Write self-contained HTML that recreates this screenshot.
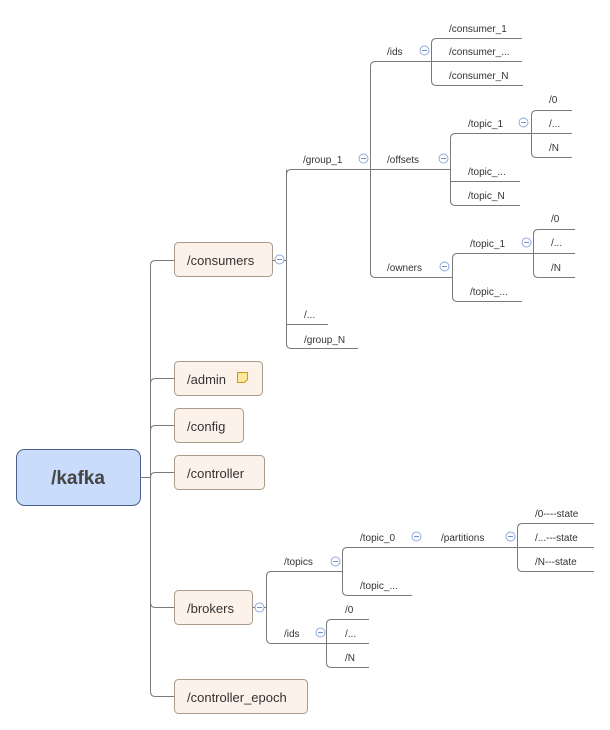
<!DOCTYPE html>
<html><head><meta charset="utf-8"><style>
body{margin:0;background:#fff;}
svg{display:block;font-family:"Liberation Sans",sans-serif;}
.l{stroke:#7a7a7a;stroke-width:1;fill:none;}
.t{font-size:10px;fill:#333;}
.b{fill:#fdf2e9;stroke:#a89a8c;stroke-width:1;}
.bt{font-size:13px;fill:#333;}
.ic{fill:#fff;stroke:#8fa8e0;stroke-width:1;}
.icl{stroke:#6f8fd8;stroke-width:1;}
</style></head><body>
<svg width="610" height="730" viewBox="0 0 610 730">
<!-- root -->
<rect x="16.5" y="449.5" width="124" height="56" rx="8" fill="#c9dcfb" stroke="#4a5f8a"/>
<text x="78" y="484" text-anchor="middle" font-size="19" font-weight="bold" fill="#444">/kafka</text>
<path class="l" d="M140.5 477.5H150.5"/>
<path class="l" d="M174 260.5H155.5Q150.5 260.5 150.5 265.5V691.5Q150.5 696.5 155.5 696.5H174"/>
<path class="l" d="M150.5 383.5Q150.5 378.5 155.5 378.5H174M150.5 430.5Q150.5 425.5 155.5 425.5H174M150.5 477.5Q150.5 472.5 155.5 472.5H174M150.5 602.5Q150.5 607.5 155.5 607.5H174"/>
<!-- level1 boxes -->
<rect class="b" x="174.5" y="242.5" width="98" height="34" rx="4"/><text class="bt" x="187" y="265">/consumers</text>
<rect class="b" x="174.5" y="361.5" width="88" height="34" rx="4"/><text class="bt" x="187" y="384">/admin</text>
<path d="M237.5 372.5h10v7l-3 3h-7z" fill="#fde79a" stroke="#c89a20"/>
<rect class="b" x="174.5" y="408.5" width="69" height="34" rx="4"/><text class="bt" x="187" y="431">/config</text>
<rect class="b" x="174.5" y="455.5" width="90" height="34" rx="4"/><text class="bt" x="187" y="478">/controller</text>
<rect class="b" x="174.5" y="590.5" width="78" height="34" rx="4"/><text class="bt" x="187" y="613">/brokers</text>
<rect class="b" x="174.5" y="679.5" width="133" height="34" rx="4"/><text class="bt" x="187" y="702">/controller_epoch</text>

<!-- consumers subtree -->
<path class="l" d="M272.5 260.5H286.5M286.5 169.5V343.5Q286.5 348.5 291.5 348.5H358M286.5 324.5H328M286.5 174.5Q286.5 169.5 291.5 169.5H450"/>
<text class="t" x="303" y="163">/group_1</text>
<text class="t" x="304" y="318">/...</text>
<text class="t" x="304" y="343">/group_N</text>
<path class="l" d="M370.5 66.5Q370.5 61.5 375.5 61.5H431M370.5 66.5V272.5Q370.5 277.5 375.5 277.5H452"/>
<text class="t" x="387" y="55">/ids</text>
<text class="t" x="387" y="163">/offsets</text>
<text class="t" x="387" y="271">/owners</text>
<!-- ids children -->
<path class="l" d="M522 38.5H436.5Q431.5 38.5 431.5 43.5V80.5Q431.5 85.5 436.5 85.5H523M431.5 61.5H522"/>
<text class="t" x="449" y="32">/consumer_1</text>
<text class="t" x="449" y="55">/consumer_...</text>
<text class="t" x="449" y="79">/consumer_N</text>
<!-- offsets children -->
<path class="l" d="M531 133.5H455.5Q450.5 133.5 450.5 138.5V200.5Q450.5 205.5 455.5 205.5H520M450.5 181.5H520"/>
<text class="t" x="468" y="127">/topic_1</text>
<text class="t" x="468" y="175">/topic_...</text>
<text class="t" x="468" y="199">/topic_N</text>
<path class="l" d="M572 110.5H536.5Q531.5 110.5 531.5 115.5V152.5Q531.5 157.5 536.5 157.5H572M531.5 133.5H572"/>
<text class="t" x="549" y="103">/0</text>
<text class="t" x="549" y="127">/...</text>
<text class="t" x="549" y="151">/N</text>
<!-- owners children -->
<path class="l" d="M533 253.5H457.5Q452.5 253.5 452.5 258.5V296.5Q452.5 301.5 457.5 301.5H522"/>
<text class="t" x="470" y="247">/topic_1</text>
<text class="t" x="470" y="295">/topic_...</text>
<path class="l" d="M575 229.5H538.5Q533.5 229.5 533.5 234.5V272.5Q533.5 277.5 538.5 277.5H575M533.5 253.5H575"/>
<text class="t" x="551" y="222">/0</text>
<text class="t" x="551" y="246">/...</text>
<text class="t" x="551" y="271">/N</text>

<!-- brokers subtree -->
<path class="l" d="M252.5 607.5H266.5M342 571.5H271.5Q266.5 571.5 266.5 576.5V638.5Q266.5 643.5 271.5 643.5H326"/>
<text class="t" x="284" y="565">/topics</text>
<text class="t" x="284" y="637">/ids</text>
<path class="l" d="M517 547.5H347.5Q342.5 547.5 342.5 552.5V590.5Q342.5 595.5 347.5 595.5H412"/>
<text class="t" x="360" y="541">/topic_0</text>
<text class="t" x="441" y="541">/partitions</text>
<text class="t" x="360" y="589">/topic_...</text>
<path class="l" d="M594 523.5H522.5Q517.5 523.5 517.5 528.5V566.5Q517.5 571.5 522.5 571.5H594M517.5 547.5H594"/>
<text class="t" x="535" y="517">/0----state</text>
<text class="t" x="535" y="541">/...---state</text>
<text class="t" x="535" y="565">/N---state</text>
<path class="l" d="M369 619.5H331.5Q326.5 619.5 326.5 624.5V662.5Q326.5 667.5 331.5 667.5H369M326.5 643.5H369"/>
<text class="t" x="345" y="613">/0</text>
<text class="t" x="345" y="637">/...</text>
<text class="t" x="345" y="661">/N</text>

<!-- collapse icons -->
<g>
<circle class="ic" cx="279.5" cy="259.5" r="4.5"/><path class="icl" d="M277 259.5h5"/>
<circle class="ic" cx="363.5" cy="158.5" r="4.5"/><path class="icl" d="M361 158.5h5"/>
<circle class="ic" cx="424.5" cy="50.5" r="4.5"/><path class="icl" d="M422 50.5h5"/>
<circle class="ic" cx="443.5" cy="158.5" r="4.5"/><path class="icl" d="M441 158.5h5"/>
<circle class="ic" cx="444.5" cy="266.5" r="4.5"/><path class="icl" d="M442 266.5h5"/>
<circle class="ic" cx="523.5" cy="122.5" r="4.5"/><path class="icl" d="M521 122.5h5"/>
<circle class="ic" cx="526.5" cy="242.5" r="4.5"/><path class="icl" d="M524 242.5h5"/>
<circle class="ic" cx="259.5" cy="607.5" r="4.5"/><path class="icl" d="M257 607.5h5"/>
<circle class="ic" cx="335.5" cy="561.5" r="4.5"/><path class="icl" d="M333 561.5h5"/>
<circle class="ic" cx="320.5" cy="632.5" r="4.5"/><path class="icl" d="M318 632.5h5"/>
<circle class="ic" cx="416.5" cy="536.5" r="4.5"/><path class="icl" d="M414 536.5h5"/>
<circle class="ic" cx="510.5" cy="536.5" r="4.5"/><path class="icl" d="M508 536.5h5"/>
</g>
</svg>
</body></html>
